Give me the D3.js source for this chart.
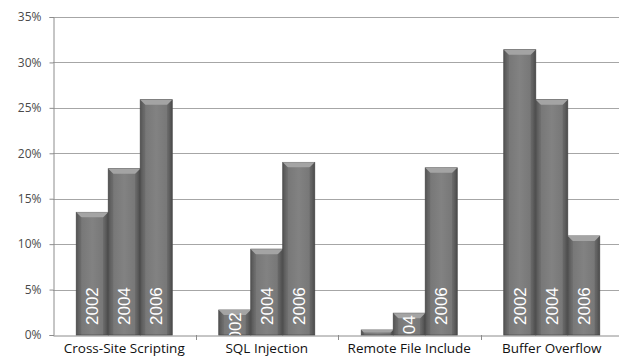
<!DOCTYPE html>
<html>
<head>
<meta charset="utf-8">
<script src="https://cdn.jsdelivr.net/npm/d3@7"></script>
<style>
  html, body { margin: 0; padding: 0; background: #fff; }
  svg { display: block; }
</style>
</head>
<body>
<svg id="chart" width="619" height="358"></svg>
<script>
// Share of reported vulnerabilities by type and year
const categories = ["Cross-Site Scripting", "SQL Injection", "Remote File Include", "Buffer Overflow"];
const years = ["2002", "2004", "2006"];
const values2002 = [0.135, 0.0275, 0.0055, 0.314];
const values2004 = [0.183, 0.0945, 0.024, 0.259];
const values2006 = [0.259, 0.190, 0.184, 0.109];
const yTicks = [0, 0.05, 0.10, 0.15, 0.20, 0.25, 0.30, 0.35];

const seriesByYear = { "2002": values2002, "2004": values2004, "2006": values2006 };
const rows = categories.map((c, i) => ({
  category: c,
  bars: years.map(yr => ({ year: yr, value: seriesByYear[yr][i], ci: i }))
}));

const svg = d3.select("#chart");
const plotLeft = 53, plotRight = 623, plotTop = 17, plotBottom = 335;

const x0 = d3.scaleBand().domain(categories).range([plotLeft, plotRight]).padding(0);
const x1 = d3.scaleBand().domain(years).range([0, x0.bandwidth()]).paddingInner(0).paddingOuter(0.727);
const y = d3.scaleLinear().domain([0, 0.35]).range([plotBottom, plotTop]);

const defs = svg.append("defs");
const grad = defs.append("linearGradient").attr("id", "barFill")
  .attr("x1", "0").attr("x2", "1").attr("y1", "0").attr("y2", "0");
grad.append("stop").attr("offset", "0").attr("stop-color", "#5e5e5e");
grad.append("stop").attr("offset", "0.12").attr("stop-color", "#767676");
grad.append("stop").attr("offset", "0.5").attr("stop-color", "#828282");
grad.append("stop").attr("offset", "0.88").attr("stop-color", "#767676");
grad.append("stop").attr("offset", "1").attr("stop-color", "#585858");

// horizontal gridlines
svg.append("g")
  .selectAll("line")
  .data(yTicks.filter(t => t > 0))
  .join("line")
  .attr("x1", plotLeft).attr("x2", 619)
  .attr("y1", d => Math.round(y(d)) + 0.5).attr("y2", d => Math.round(y(d)) + 0.5)
  .attr("stroke", "#a6a6a6").attr("stroke-width", 1);

// y axis
const yAxis = d3.axisLeft(y).tickValues(yTicks).tickFormat(d3.format(".0%")).tickSize(4).tickPadding(8);
const gy = svg.append("g").attr("transform", `translate(${plotLeft + 0.5},0)`).call(yAxis);
gy.select(".domain").attr("stroke", "#8c8c8c");
gy.selectAll(".tick line").attr("stroke", "#8c8c8c");
gy.selectAll(".tick text")
  .attr("font-family", "'Open Sans', 'DejaVu Sans', sans-serif")
  .attr("font-size", 12).attr("fill", "#4a4a4a");

// x axis
const xAxis = d3.axisBottom(x0).tickSize(0).tickPadding(8);
const gx = svg.append("g").attr("transform", `translate(0,${plotBottom + 0.5})`).call(xAxis);
gx.select(".domain").attr("stroke", "#8c8c8c");
gx.selectAll(".tick text")
  .attr("font-family", "'Open Sans', 'DejaVu Sans', sans-serif")
  .attr("font-size", 13.5).attr("fill", "#111");
// category separators
svg.append("g").selectAll("line")
  .data(categories.slice(1))
  .join("line")
  .attr("x1", d => Math.round(x0(d)) + 0.5).attr("x2", d => Math.round(x0(d)) + 0.5)
  .attr("y1", plotBottom).attr("y2", plotBottom + 5)
  .attr("stroke", "#8c8c8c");

// bars
const groups = svg.append("g").selectAll("g")
  .data(rows)
  .join("g")
  .attr("transform", d => `translate(${x0(d.category)},0)`);

const bar = groups.selectAll("g.bar")
  .data(d => d.bars)
  .join("g").attr("class", "bar");

const bw = x1.bandwidth();
bar.each(function(d) {
  const g = d3.select(this);
  const bx = x1(d.year), by = y(d.value), bh = plotBottom - by;
  const id = `clip-${d.ci}-${d.year}`;
  defs.append("clipPath").attr("id", id)
    .append("rect").attr("x", x0(categories[d.ci]) + bx).attr("y", by).attr("width", bw).attr("height", bh);

  g.append("rect")
    .attr("x", bx).attr("y", by).attr("width", bw).attr("height", bh)
    .attr("fill", "url(#barFill)")
    .attr("stroke", "#505050").attr("stroke-width", 0.8);

  // bevelled top edge
  const bev = Math.min(5, bh / 2);
  g.append("path")
    .attr("d", `M${bx},${by} L${bx + bw},${by} L${bx + bw - bev},${by + bev} L${bx + bev},${by + bev} Z`)
    .attr("fill", "#a4a4a4");
  g.append("path")
    .attr("d", `M${bx},${by} L${bx + bev},${by + bev} L${bx + bev},${plotBottom} L${bx},${plotBottom} Z`)
    .attr("fill", "#000").attr("opacity", 0.1);
  g.append("path")
    .attr("d", `M${bx + bw},${by} L${bx + bw - bev},${by + bev} L${bx + bw - bev},${plotBottom} L${bx + bw},${plotBottom} Z`)
    .attr("fill", "#000").attr("opacity", 0.14);
});

// year labels inside the bars, clipped to each bar; on short bars the label
// is pushed down so that its end sits just under the bar top, and bars too
// thin to show any of it get no label
const labelLayer = svg.append("g");
const labelLen = 38;
rows.forEach(r => r.bars.forEach(d => {
  if (plotBottom - y(d.value) < 10) return;
  const cx = x0(r.category) + x1(d.year) + bw / 2;
  const startY = Math.max(plotBottom - 10, y(d.value) + 2 + labelLen);
  labelLayer.append("g").attr("clip-path", `url(#clip-${d.ci}-${d.year})`)
    .append("text")
    .attr("transform", `translate(${cx + 6},${startY}) rotate(-90)`)
    .attr("font-family", "'Liberation Sans', Arial, sans-serif")
    .attr("font-size", 17).attr("fill", "#fff")
    .text(d.year);
}));
</script>
</body>
</html>
